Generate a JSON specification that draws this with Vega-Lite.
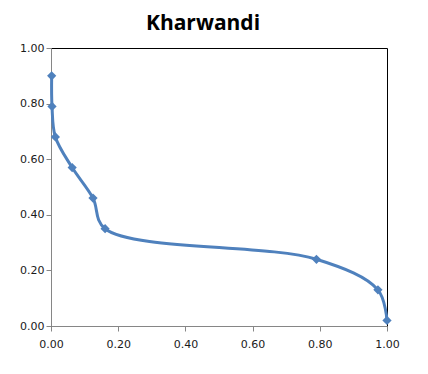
{
  "$schema": "https://vega.github.io/schema/vega-lite/v6.json",
  "width": 336,
  "height": 278,
  "autosize": {"type": "none"},
  "padding": {"left": 51, "top": 48, "right": 41, "bottom": 48},
  "background": "white",
  "title": {
    "text": "Kharwandi",
    "font": "Open Sans",
    "fontSize": 21,
    "fontWeight": "bold",
    "color": "#000000",
    "anchor": "middle",
    "dx": -16,
    "offset": 8
  },
  "data": {
    "values": [
      {"i": 1, "x": 0.002, "y": 0.90},
      {"i": 2, "x": 0.003, "y": 0.79},
      {"i": 3, "x": 0.013, "y": 0.68},
      {"i": 4, "x": 0.063, "y": 0.57},
      {"i": 5, "x": 0.125, "y": 0.46},
      {"i": 6, "x": 0.161, "y": 0.35},
      {"i": 7, "x": 0.79, "y": 0.24},
      {"i": 8, "x": 0.973, "y": 0.13},
      {"i": 9, "x": 1.0, "y": 0.02}
    ]
  },
  "encoding": {
    "x": {
      "field": "x",
      "type": "quantitative",
      "scale": {"domain": [0, 1], "nice": false},
      "axis": {
        "title": null,
        "values": [0, 0.2, 0.4, 0.6, 0.8, 1.0],
        "format": ".2f",
        "grid": false,
        "domainColor": "#868686",
        "tickColor": "#868686",
        "tickSize": 5,
        "labelFont": "DejaVu Sans",
        "labelFontSize": 11,
        "labelColor": "#1a1a1a",
        "labelPadding": 7,
        "labelFlush": false
      }
    },
    "y": {
      "field": "y",
      "type": "quantitative",
      "scale": {"domain": [0, 1], "nice": false},
      "axis": {
        "title": null,
        "values": [0, 0.2, 0.4, 0.6, 0.8, 1.0],
        "format": ".2f",
        "grid": false,
        "domainColor": "#868686",
        "tickColor": "#868686",
        "tickSize": 5,
        "labelFont": "DejaVu Sans",
        "labelFontSize": 11,
        "labelColor": "#1a1a1a",
        "labelPadding": 2,
        "labelFlush": false
      }
    },
    "order": {"field": "i", "type": "quantitative"}
  },
  "layer": [
    {
      "mark": {
        "type": "line",
        "interpolate": "catmull-rom",
        "color": "#4F81BD",
        "strokeWidth": 3
      }
    },
    {
      "mark": {
        "type": "point",
        "shape": "diamond",
        "filled": true,
        "opacity": 1,
        "color": "#4F81BD",
        "size": 85
      }
    }
  ],
  "config": {
    "view": {"stroke": "#000000", "strokeWidth": 1}
  }
}
